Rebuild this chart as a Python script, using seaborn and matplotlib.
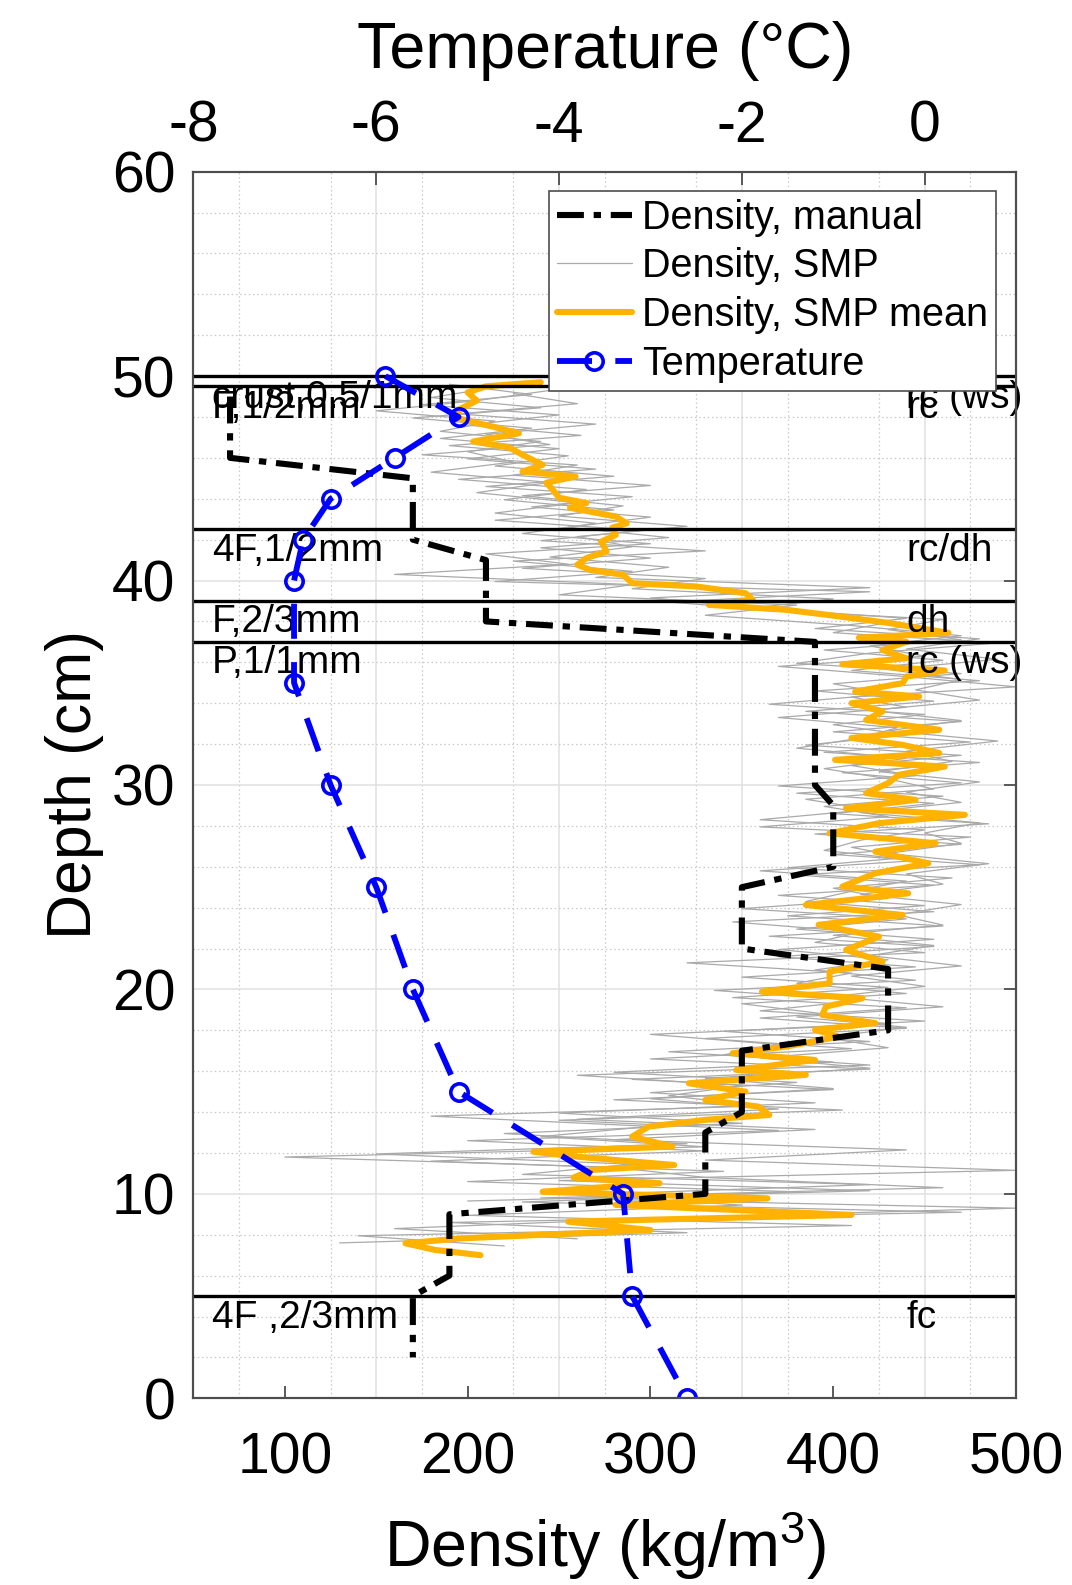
import numpy as np
import pandas as pd
import matplotlib
matplotlib.use("Agg")
import matplotlib.pyplot as plt
from matplotlib.ticker import MultipleLocator
from matplotlib.lines import Line2D
import seaborn as sns

sns.set_style("white")
plt.rcParams["font.family"] = ["Liberation Sans", "DejaVu Sans"]
plt.rcParams["mathtext.fontset"] = "custom"
plt.rcParams["mathtext.rm"] = "Liberation Sans"
plt.rcParams["mathtext.it"] = "Liberation Sans:italic"
plt.rcParams["axes.unicode_minus"] = False
plt.rcParams["text.color"] = "black"
plt.rcParams["axes.labelcolor"] = "black"
plt.rcParams["xtick.labelcolor"] = "black"
plt.rcParams["ytick.labelcolor"] = "black"

# ---------------- data ----------------
# Manual density (cutter samples), depth in cm / density in kg/m3
manual_depth = [49, 46, 45, 42, 41, 38, 37, 34, 33, 30, 29, 26, 25, 22, 21, 18, 17, 14, 13, 10, 9, 6, 5, 2]
manual_density = [70, 70, 170, 170, 210, 210, 390, 390, 390, 390, 400, 400, 350, 350,
                  430, 430, 350, 350, 330, 330, 190, 190, 170, 170]

# Snow temperature profile
temp_depth = [50, 48, 46, 44, 42, 40, 35, 30, 25, 20, 15, 10, 5, 0]
temp_values = [-5.9, -5.1, -5.8, -6.5, -6.8, -6.9, -6.9, -6.5, -6.0, -5.6, -5.1, -3.3, -3.2, -2.6]

# Mean SMP density profile
smp_mean_depth = [49.7, 49.5, 49.2, 48.8, 48.4, 47.95, 47.5, 47.2, 46.8, 46.5, 46.15, 45.66, 45.33, 45.09,
                  44.78, 44.4, 44.05, 43.79, 43.56, 43.13, 42.8, 42.58, 42.23, 41.9, 41.42, 41.1, 40.77,
                  40.52, 40.28, 39.87, 39.71, 39.38, 39.05, 38.81, 38.57, 38.33, 37.93, 37.44, 37.2, 37.0,
                  36.6, 36.2, 35.9, 35.6, 35.3, 34.98, 34.57, 34.33, 34.0, 33.6, 33.18, 32.7, 32.3, 31.96,
                  31.56, 31.23, 30.9, 30.5, 30.09, 29.6, 29.27, 28.86, 28.54, 28.13, 27.64, 27.15, 26.74,
                  26.17, 25.68, 25.03, 24.7, 24.13, 23.64, 23.16, 22.58, 21.93, 21.36, 20.87, 20.3, 19.89,
                  19.57, 19.16, 18.75, 18.35, 18.02, 17.69, 17.2, 16.88, 16.55, 16.06, 15.82, 15.41, 15.0,
                  14.59, 14.27, 13.86, 13.62, 13.29, 12.8, 12.31, 12.06, 11.8, 11.41, 11.17, 10.8, 10.52,
                  10.3, 10.1, 9.78, 9.46, 8.97, 8.64, 8.23, 7.82, 7.58, 7.26, 7.0]
smp_mean_density = [240, 210, 200, 205, 196, 194, 215, 228, 203, 223, 230, 241, 230, 259,
                    243, 247, 250, 265, 256, 281, 287, 279, 281, 273, 276, 265, 260,
                    267, 285, 290, 325, 352, 356, 332, 374, 396, 430, 463, 414, 440,
                    427, 440, 405, 461, 440, 438, 412, 447, 410, 427, 418, 458, 410, 438,
                    458, 401, 461, 436, 430, 418, 445, 407, 472, 425, 398, 456, 423,
                    452, 423, 405, 441, 385, 438, 392, 425, 407, 427, 398, 398, 361,
                    416, 396, 394, 423, 390, 403, 374, 345, 390, 347, 385, 321, 352,
                    330, 359, 365, 330, 299, 290, 312, 236, 262, 313, 268, 258, 305,
                    270, 241, 364, 281, 410, 255, 300, 196, 166, 182, 207]

# Individual SMP density profiles, sampled every 0.5 cm from their first depth
smp_start = [49.6, 49.45, 49.3, 49.15]
smp_a = [190, 235, 175, 250, 200, 262, 190, 255, 215, 280, 210, 290, 235, 300, 255, 310, 240, 300,
         230, 330, 290, 400, 350, 460, 430, 470, 395, 460, 410, 480, 390, 455, 385, 470, 400, 475,
         395, 480, 405, 470, 380, 455, 400, 485, 390, 470, 400, 480, 380, 455, 370, 450, 375, 460,
         365, 455, 370, 445, 350, 430, 345, 440, 360, 440, 330, 410, 300, 420, 290, 400, 280, 405,
         250, 370, 200, 330, 180, 340, 200, 380, 230, 470, 190, 320, 130]
smp_b = [215, 180, 240, 170, 235, 185, 250, 200, 270, 195, 265, 220, 280, 215, 295, 240, 330, 225,
         290, 215, 420, 310, 380, 430, 400, 490, 420, 380, 470, 400, 430, 365, 450, 400, 440, 385,
         470, 410, 445, 370, 460, 395, 430, 360, 475, 410, 440, 375, 465, 400, 430, 350, 440, 380,
         455, 370, 430, 390, 445, 335, 415, 360, 450, 340, 420, 310, 400, 280, 380, 300, 390, 250,
         350, 220, 320, 150, 290, 230, 420, 260, 350, 200, 410, 140, 220]
smp_c = [245, 205, 150, 215, 185, 240, 200, 225, 180, 245, 205, 260, 215, 270, 230, 300, 210, 255,
         160, 290, 250, 380, 330, 410, 470, 420, 450, 370, 440, 500, 410, 440, 370, 435, 415, 380,
         440, 395, 430, 455, 385, 420, 360, 450, 415, 395, 445, 360, 440, 410, 385, 455, 345, 415,
         390, 450, 320, 410, 380, 440, 350, 395, 430, 300, 370, 340, 420, 260, 350, 310, 360, 180,
         300, 240, 330, 100, 280, 330, 460, 240, 500, 300, 160, 260]
smp_d = [225, 260, 195, 270, 210, 245, 175, 260, 225, 300, 230, 285, 250, 320, 260, 290, 245, 310,
         270, 420, 300, 360, 440, 390, 480, 440, 490, 430, 470, 445, 480, 420, 470, 430, 490, 440,
         465, 425, 480, 440, 470, 415, 480, 450, 470, 430, 485, 440, 460, 415, 470, 435, 460, 400,
         455, 420, 470, 410, 450, 400, 460, 380, 440, 395, 430, 360, 420, 330, 400, 300, 370, 260,
         390, 280, 440, 330, 500, 250, 420, 200]

# Stratigraphy: top of each layer, hand hardness / grain size, grain type
layer_tops = [50, 49.5, 42.5, 39, 37, 5]
layer_left = ["crust,0.5/1mm", "F,1/2mm", "4F,1/2mm", "F,2/3mm", "P,1/1mm", "4F ,2/3mm"]
layer_right = ["rc (ws)", "rc", "rc/dh", "dh", "rc (ws)", "fc"]

# ---------------- tables ----------------
frames = []
for name, start, vals in zip(["a", "b", "c", "d"], smp_start, [smp_a, smp_b, smp_c, smp_d]):
    frames.append(pd.DataFrame({"trace": name,
                                "depth": start - 0.5 * np.arange(len(vals)),
                                "density": vals}))
smp = pd.concat(frames, ignore_index=True)

# ---------------- figure ----------------
GRAY = "#aaaaaa"
ORANGE = "#ffb300"
SPINE = "#4d4d4d"
MANUAL_LS = (0, (4.4, 1.6, 1.2, 1.6))
TEMP_LS = (0, (6.0, 4.0))
fig = plt.figure(figsize=(10.72, 15.85), dpi=100)
rect = [0.1805, 0.1178, 0.7673, 0.7739]

# background grid axes (temperature x, depth y)
ax_bg = fig.add_axes(rect)
ax_bg.set_xlim(-8, 1)
ax_bg.set_ylim(0, 60)
ax_bg.xaxis.set_major_locator(MultipleLocator(2))
ax_bg.xaxis.set_minor_locator(MultipleLocator(1, offset=0.5))
ax_bg.yaxis.set_major_locator(MultipleLocator(10))
ax_bg.yaxis.set_minor_locator(MultipleLocator(2))
ax_bg.grid(which="major", color="#e0e0e0", lw=1.1, ls="-")
ax_bg.grid(which="minor", color="#c9c9c9", lw=0.9, ls=(0, (1.2, 2.2)))
ax_bg.tick_params(which="both", length=0, labelbottom=False, labelleft=False)
for s in ax_bg.spines.values():
    s.set_visible(False)

# density axes
ax = fig.add_axes(rect)
ax.patch.set_visible(False)
sns.lineplot(data=smp, x="density", y="depth", units="trace", estimator=None, sort=False,
             color=GRAY, lw=0.9, ax=ax)
sns.lineplot(x=smp_mean_density, y=smp_mean_depth, estimator=None, sort=False,
             color=ORANGE, lw=4.4, ax=ax)
sns.lineplot(x=manual_density, y=manual_depth, estimator=None, sort=False,
             color="black", lw=4.4, ax=ax)
ax.lines[-1].set_linestyle(MANUAL_LS)

for top in layer_tops:
    ax.axhline(top, color="black", lw=2.4, zorder=3)
for top, lt, rt in zip(layer_tops, layer_left, layer_right):
    ax.text(60, top - 1.05, lt, fontsize=28, va="center", ha="left", zorder=4)
    ax.text(440, top - 1.05, rt, fontsize=28, va="center", ha="left", zorder=4)

ax.set_xlim(50, 500)
ax.set_ylim(0, 60)
ax.set_xticks([100, 200, 300, 400, 500])
ax.set_yticks(range(0, 61, 10))
ax.tick_params(axis="both", which="major", direction="in", length=9, width=1.3, color=SPINE,
               labelcolor="black", labelsize=41, top=True, right=True,
               labeltop=False, labelright=False)
ax.tick_params(axis="x", pad=24)
ax.tick_params(axis="y", pad=13)
ax.set_xlabel("Density (kg/m$^3$)", fontsize=46.5, labelpad=17)
ax.set_ylabel("Depth (cm)", fontsize=45, labelpad=6)
for s in ax.spines.values():
    s.set_color(SPINE)
    s.set_linewidth(1.5)

# temperature axes on top
ax2 = ax.twiny()
sns.lineplot(x=temp_values, y=temp_depth, estimator=None, sort=False, color="blue", lw=4.2,
             marker="o", markersize=12.5, markerfacecolor="none", markeredgecolor="blue",
             markeredgewidth=2.6, ax=ax2)
ax2.lines[-1].set_linestyle(TEMP_LS)
ax2.set_xlim(-8, 1)
ax2.set_ylim(0, 60)
ax2.set_xticks([-8, -6, -4, -2, 0])
ax2.tick_params(axis="x", direction="in", length=9, width=1.3, color=SPINE, labelcolor="black",
                labelsize=41, pad=13)
ax2.set_xlabel("Temperature (°C)", fontsize=46.5, labelpad=23)
ax2.set_ylabel("")
for s in ax2.spines.values():
    s.set_color(SPINE)
    s.set_linewidth(1.5)

handles = [
    Line2D([], [], color="black", lw=4.4, ls=MANUAL_LS),
    Line2D([], [], color=GRAY, lw=0.9),
    Line2D([], [], color=ORANGE, lw=4.4),
    Line2D([], [], color="blue", lw=4.2, ls=TEMP_LS, marker="o", markersize=12.5,
           markerfacecolor="none", markeredgecolor="blue", markeredgewidth=2.6),
]
labels = ["Density, manual", "Density, SMP", "Density, SMP mean", "Temperature"]
leg = ax2.legend(handles, labels, loc="upper right", bbox_to_anchor=(0.9753, 0.9845),
                 bbox_transform=ax2.transAxes, borderaxespad=0, fontsize=28.5, frameon=True,
                 fancybox=False, edgecolor=SPINE, framealpha=1, handlelength=1.9,
                 handletextpad=0.25, labelspacing=0.27, borderpad=0.2)
leg.get_frame().set_linewidth(1.2)
leg.set_zorder(10)

fig.savefig("out.png", dpi=100)
